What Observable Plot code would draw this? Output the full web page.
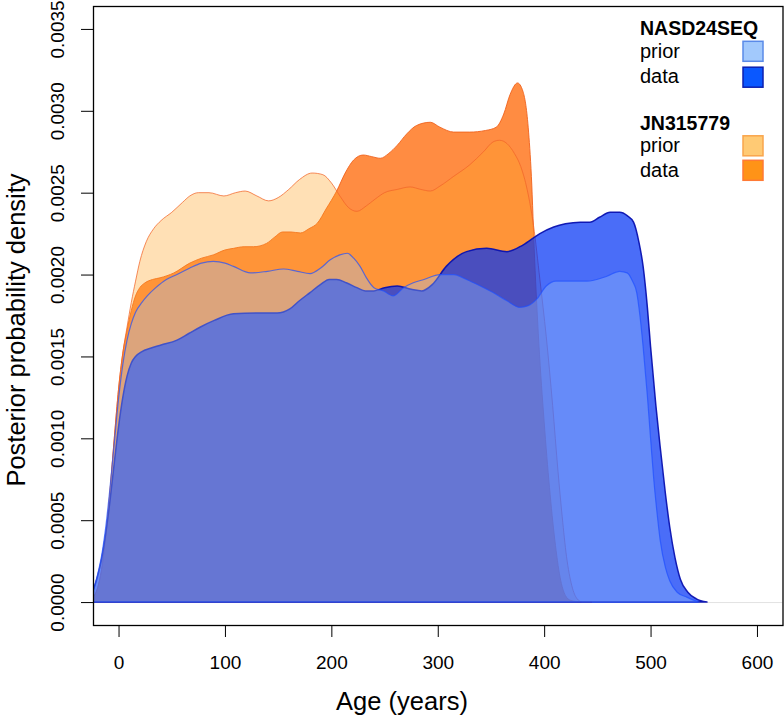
<!DOCTYPE html>
<html>
<head>
<meta charset="utf-8">
<script src="https://cdn.jsdelivr.net/npm/d3@7"></script>
<script src="https://cdn.jsdelivr.net/npm/@observablehq/plot@0.6"></script>
<style>
  html, body { margin: 0; padding: 0; background: #fff; }
  svg { display: block; }
</style>
</head>
<body>
<script>
// ---------- data ----------
const xTicks = [0, 100, 200, 300, 400, 500, 600];
const yTicks = [0, 0.0005, 0.001, 0.0015, 0.002, 0.0025, 0.003, 0.0035];

// JN315779 – data (posterior)
const jnDataAge = [-40, -30, -24, -20, -16, -12, -8, -4, 0, 4, 8, 12, 16, 20, 25, 32, 39, 52, 67, 78, 89, 100, 108, 118, 127, 139, 147, 154, 162, 171, 179, 187, 195, 205, 213, 221, 230, 238, 246, 254, 262, 271, 280, 293, 302, 315, 330, 345, 355, 362, 368, 375, 380, 385, 388, 391, 395, 400, 405, 410, 415, 420, 425, 435];
const jnDataDens = [0, 0.00001, 0.00003, 0.00008, 0.0002, 0.0004, 0.00068, 0.001, 0.0013, 0.00152, 0.00166, 0.00178, 0.00187, 0.00192, 0.00195, 0.00197, 0.00198, 0.00201, 0.00207, 0.0021, 0.00212, 0.00215, 0.00216, 0.00217, 0.00217, 0.00219, 0.00223, 0.00226, 0.00226, 0.002254, 0.00228, 0.002315, 0.0024, 0.00251, 0.00262, 0.0027, 0.00273, 0.00272, 0.00271, 0.00274, 0.00279, 0.00286, 0.00291, 0.00293, 0.0029, 0.00287, 0.00287, 0.00288, 0.0029, 0.00298, 0.0031, 0.00317, 0.00312, 0.0029, 0.0026, 0.0021, 0.00158, 0.0011, 0.0007, 0.00038, 0.00015, 0.00004, 0.00001, 0];

// JN315779 – prior
const jnPriorAge = [-40, -30, -24, -20, -16, -12, -8, -4, 0, 4, 8, 12, 16, 20, 26, 33, 40, 50, 60, 67, 75, 85, 99, 110, 119, 130, 141, 150, 160, 170, 182, 192, 200, 208, 216, 224, 233, 241, 250, 262, 274, 284, 293, 302, 315, 330, 343, 352, 358, 365, 372, 378, 384, 390, 396, 402, 408, 413, 417, 421, 426, 431, 436, 445];
const jnPriorDens = [0, 0.00001, 0.00003, 0.00008, 0.00019, 0.0004, 0.00068, 0.001, 0.0013, 0.00152, 0.00168, 0.00183, 0.00196, 0.00208, 0.0022, 0.00228, 0.00233, 0.00238, 0.00244, 0.00248, 0.0025, 0.0025, 0.00248, 0.0025, 0.00251, 0.00248, 0.00245, 0.00247, 0.00252, 0.00258, 0.00262, 0.00261, 0.00256, 0.00248, 0.00241, 0.002386, 0.00242, 0.00246, 0.0025, 0.00252, 0.002535, 0.00252, 0.00251, 0.00254, 0.0026, 0.00267, 0.00275, 0.00281, 0.00282, 0.0028, 0.00274, 0.00266, 0.00252, 0.0023, 0.00197, 0.00162, 0.0012, 0.0008, 0.00052, 0.00028, 0.0001, 0.00002, 0, 0];

// NASD24SEQ – data (posterior)
const nasdDataAge = [-40, -30, -24, -20, -16, -12, -8, -4, 0, 4, 8, 12, 16, 22, 30, 40, 55, 66, 77, 90, 108, 130, 149, 161, 170, 180, 190, 198, 205, 214, 224, 232, 240, 250, 262, 275, 285, 295, 308, 327, 346, 365, 380, 396, 409, 420, 434, 443, 452, 462, 471, 478, 484, 489, 493, 497, 500, 505, 509, 514, 518, 523, 528, 535, 543, 553];
const nasdDataDens = [0, 0.00002, 0.00007, 0.00015, 0.00026, 0.00042, 0.00062, 0.00085, 0.00107, 0.00125, 0.00138, 0.00146, 0.0015, 0.00153, 0.00155, 0.00157, 0.0016, 0.00164, 0.00168, 0.00172, 0.00176, 0.001765, 0.001765, 0.00179, 0.00184, 0.00189, 0.00194, 0.00197, 0.00197, 0.00195, 0.00192, 0.0019, 0.0019, 0.00192, 0.00193, 0.00191, 0.0019, 0.00194, 0.00205, 0.00214, 0.00216, 0.00214, 0.00218, 0.00225, 0.00229, 0.00231, 0.00232, 0.00232, 0.00235, 0.00238, 0.00238, 0.00236, 0.00232, 0.0022, 0.00205, 0.0018, 0.00156, 0.0012, 0.00095, 0.00066, 0.00046, 0.00027, 0.00014, 0.00006, 0.00002, 0];

// NASD24SEQ – prior
const nasdPriorAge = [-40, -30, -24, -20, -16, -12, -8, -4, 0, 4, 8, 12, 16, 22, 27, 35, 45, 55, 67, 78, 89, 100, 108, 124, 140, 155, 168, 180, 190, 199, 208, 215, 221, 227, 233, 240, 249, 258, 268, 277, 287, 302, 315, 327, 340, 352, 365, 377, 385, 393, 402, 411, 421, 440, 459, 471, 478, 483, 487, 490, 493, 497, 500, 503, 506, 509, 514, 518, 525, 534, 545];
const nasdPriorDens = [0, 0.00002, 0.00007, 0.00016, 0.00028, 0.00046, 0.0007, 0.00097, 0.00124, 0.00145, 0.0016, 0.0017, 0.00177, 0.00183, 0.00187, 0.00192, 0.00197, 0.002, 0.00204, 0.00207, 0.00208, 0.00207, 0.00205, 0.00201, 0.00202, 0.002034, 0.00202, 0.002006, 0.00204, 0.00209, 0.00212, 0.00213, 0.0021, 0.00205, 0.00198, 0.00192, 0.0019, 0.00187, 0.00192, 0.00195, 0.00197, 0.002, 0.002, 0.00197, 0.00193, 0.00189, 0.00184, 0.0018, 0.00181, 0.00185, 0.00193, 0.00196, 0.00196, 0.00196, 0.00199, 0.00202, 0.00201, 0.00196, 0.00189, 0.00175, 0.00156, 0.00126, 0.001, 0.00075, 0.00055, 0.00038, 0.00021, 0.00013, 0.00006, 0.00003, 0];

const legendGroups = ["NASD24SEQ", "JN315779"];
const legendItems = ["prior", "data"];

// ---------- build tables ----------
const toRows = (ages, dens) => ages.map((a, i) => ({age: a, density: dens[i]}));
const jnData = toRows(jnDataAge, jnDataDens);
const jnPrior = toRows(jnPriorAge, jnPriorDens);
const nasdData = toRows(nasdDataAge, nasdDataDens);
const nasdPrior = toRows(nasdPriorAge, nasdPriorDens);

const FONT = "'Liberation Sans', Arial, Helvetica, sans-serif";
const curve = "monotone-x";

const chart = Plot.plot({
  width: 784,
  height: 717,
  marginLeft: 93,
  marginRight: 1.5,
  marginTop: 6,
  marginBottom: 92,
  style: {fontFamily: FONT, background: "#fff", color: "black"},
  x: {domain: [-24, 624], label: null},
  y: {domain: [-0.00014, 0.00364], label: null},
  marks: [
    Plot.ruleY([0], {stroke: "#e2e2e2", strokeWidth: 1}),
    Plot.areaY(jnData, {x: "age", y: "density", curve, clip: true,
      fill: "rgb(255,100,0)", fillOpacity: 0.74,
      stroke: "#f0621c", strokeWidth: 1, strokeOpacity: 0.9}),
    Plot.areaY(jnPrior, {x: "age", y: "density", curve, clip: true,
      fill: "rgb(255,165,37)", fillOpacity: 0.34,
      stroke: "#f2652a", strokeWidth: 1, strokeOpacity: 0.75}),
    Plot.areaY(nasdData, {x: "age", y: "density", curve, clip: true,
      fill: "rgb(0,50,245)", fillOpacity: 0.71,
      stroke: "#0a12b0", strokeWidth: 1.5, strokeOpacity: 0.95}),
    Plot.areaY(nasdPrior, {x: "age", y: "density", curve, clip: true,
      fill: "rgb(154,194,253)", fillOpacity: 0.35,
      stroke: "#2050ff", strokeWidth: 1.2, strokeOpacity: 0.7}),
    Plot.frame({stroke: "black", strokeWidth: 1.3}),
    Plot.axisX({ticks: xTicks, tickSize: 12, tickPadding: 18, fontSize: 19, label: null,
      tickFormat: d => String(d), stroke: "black"}),
    Plot.axisY({ticks: yTicks, tickSize: 12, label: null, tickFormat: () => "", stroke: "black"}),
    Plot.text(yTicks, {y: d => d, text: d => d.toFixed(4), frameAnchor: "left",
      textAnchor: "middle", lineAnchor: "middle",
      dx: -36, rotate: -90, fontSize: 19, fill: "black"})
  ]
});

document.body.appendChild(chart);

// ---------- axis titles and legend ----------
const svg = d3.select(chart);
svg.append("text")
  .attr("x", 402).attr("y", 710)
  .attr("text-anchor", "middle")
  .attr("font-family", FONT).attr("font-size", 25.5)
  .attr("fill", "black")
  .text("Age (years)");
svg.append("text")
  .attr("transform", "translate(25,330) rotate(-90)")
  .attr("text-anchor", "middle")
  .attr("font-family", FONT).attr("font-size", 25.5)
  .attr("fill", "black")
  .text("Posterior probability density");

const legendSwatches = {
  "NASD24SEQ": [{fill: "#a2c9fc", stroke: "#5a8ae8"}, {fill: "#0a58ff", stroke: "#0c1fb0"}],
  "JN315779": [{fill: "#ffca74", stroke: "#f9a54c"}, {fill: "#ff9317", stroke: "#ff7a35"}]
};
const legendLayout = [
  {title: 35, rows: [57.5, 83], boxes: [41.3, 67.2]},
  {title: 129.5, rows: [152, 176.5], boxes: [135.8, 160.3]}
];
const lg = svg.append("g").attr("font-family", FONT).attr("fill", "black")
  .attr("text-anchor", "start");
legendGroups.forEach((name, gi) => {
  const L = legendLayout[gi];
  lg.append("text").attr("x", 640).attr("y", L.title).attr("text-anchor", "start")
    .attr("font-size", 19.5).attr("font-weight", "bold").text(name);
  legendItems.forEach((item, ii) => {
    lg.append("text").attr("x", 640).attr("y", L.rows[ii]).attr("text-anchor", "start")
      .attr("font-size", 20).text(item);
    const sw = legendSwatches[name][ii];
    lg.append("rect").attr("x", 743).attr("y", L.boxes[ii])
      .attr("width", 20).attr("height", 20)
      .attr("fill", sw.fill).attr("stroke", sw.stroke).attr("stroke-width", 1.5);
  });
});
</script>
</body>
</html>
